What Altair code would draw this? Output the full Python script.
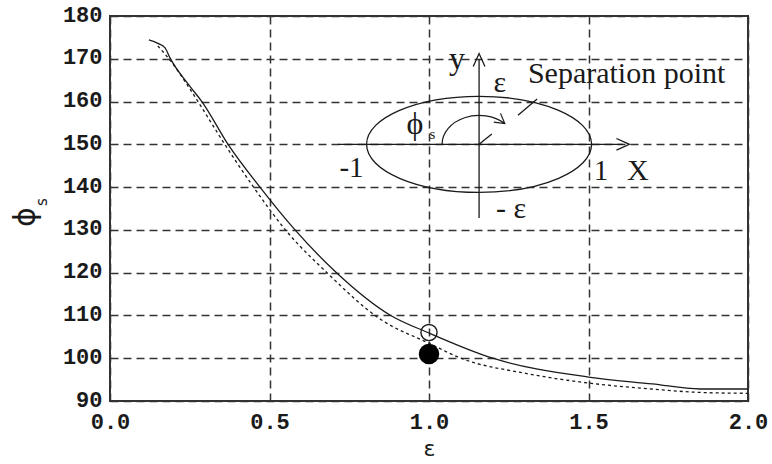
import altair as alt
import pandas as pd

# ---- data ----
eps_solid = [0.122, 0.15, 0.172, 0.188, 0.25, 0.288, 0.37, 0.47, 0.58, 0.71, 0.88, 1.0, 1.2, 1.5, 1.7, 1.85, 2.0]
phi_solid = [174.4, 173.6, 172.6, 170.2, 163.6, 160.0, 150.0, 140.0, 130.0, 120.0, 110.0, 105.9, 100.0, 95.6, 94.0, 92.8, 92.8]

eps_dot = [0.15, 0.19, 0.25, 0.28, 0.36, 0.45, 0.55, 0.68, 0.85, 1.0, 1.1, 1.3, 1.5, 1.7, 1.85, 2.0]
phi_dot = [173.0, 169.5, 163.0, 159.5, 150.0, 140.0, 130.0, 120.0, 109.0, 103.5, 100.0, 96.5, 94.2, 92.8, 92.0, 91.8]

open_pt = {"e": [1.0], "v": [106.0]}
filled_pt = {"e": [1.0], "v": [101.0]}

x_ticks = [0.0, 0.5, 1.0, 1.5, 2.0]
y_ticks = [90, 100, 110, 120, 130, 140, 150, 160, 170, 180]

# inset diagram (in data coordinates)
inset_center = {"e": [1.157], "v": [150.0]}
seg_e = [0.715, 1.157, 1.157, 1.279]
seg_v = [150.0, 132.8, 150.0, 156.8]
seg_e2 = [1.608, 1.157, 1.197, 1.339]
seg_v2 = [150.0, 169.7, 152.4, 160.6]

lab_text = ["y", "ε", "-1", "1", "X", "- ε", "ϕ", "s"]
lab_e = [1.088, 1.222, 0.757, 1.539, 1.655, 1.257, 0.956, 1.011]
lab_v = [169.9, 164.4, 144.5, 143.8, 143.8, 134.9, 154.7, 152.3]
lab_fs = [32, 30, 29, 29, 30, 30, 32, 15]

sep_text = ["Separation point"]
sep_e = [1.31]
sep_v = [166.4]

# ---- tables ----
solid = pd.DataFrame({"e": eps_solid, "v": phi_solid})
dotted = pd.DataFrame({"e": eps_dot, "v": phi_dot})
segs = pd.DataFrame({"e": seg_e, "v": seg_v, "e2": seg_e2, "v2": seg_v2})
labels = pd.DataFrame({"e": lab_e, "v": lab_v, "t": lab_text, "fs": lab_fs})
sep = pd.DataFrame({"e": sep_e, "v": sep_v, "t": sep_text})
center = pd.DataFrame(inset_center)
x_arrow = pd.DataFrame({"e": [seg_e2[0]], "v": [seg_v2[0]]})
y_arrow = pd.DataFrame({"e": [seg_e2[1]], "v": [seg_v2[1]]})

INK = "#1a1a1a"
GRID = "#333333"

xs = alt.Scale(domain=[0, 2], nice=False, zero=False)
ys = alt.Scale(domain=[90, 180], nice=False, zero=False)

x_axis = alt.Axis(values=x_ticks, format=".1f", title="ε", grid=True, gridDash=[8, 5],
                  gridColor=GRID, gridWidth=1.5, gridOpacity=1, ticks=False, domain=False,
                  labelFont="Liberation Mono", labelFontSize=22, labelFontWeight="bold",
                  labelColor="#1a1a1a", labelPadding=10, labelFlush=False, labelOverlap=False,
                  titleFont="DejaVu Sans", titleFontSize=22, titleFontWeight="normal",
                  titleColor="#1a1a1a", titlePadding=6)
y_axis = alt.Axis(values=y_ticks, format="d", title=None, grid=True, gridDash=[8, 5],
                  gridColor=GRID, gridWidth=1.5, gridOpacity=1, ticks=False, domain=False,
                  labelFont="Liberation Mono", labelFontSize=22, labelFontWeight="bold",
                  labelColor="#1a1a1a", labelPadding=8, labelFlush=False, labelOverlap=False,
                  labelOffset=-2)

X = alt.X("e:Q", scale=xs, axis=x_axis)
Y = alt.Y("v:Q", scale=ys, axis=y_axis)
Xn = alt.X("e:Q", scale=xs)
Yn = alt.Y("v:Q", scale=ys)

solid_line = alt.Chart(solid).mark_line(color=INK, strokeWidth=1.3, interpolate="monotone").encode(x=X, y=Y)
dot_line = alt.Chart(dotted).mark_line(color=INK, strokeWidth=1.3, strokeDash=[3, 3],
                                       interpolate="monotone").encode(x=Xn, y=Yn)

open_c = alt.Chart(pd.DataFrame(open_pt)).mark_point(
    shape="circle", filled=False, size=260, color=INK, strokeWidth=1.4, opacity=1).encode(x=Xn, y=Yn)
fill_c = alt.Chart(pd.DataFrame(filled_pt)).mark_point(
    shape="circle", filled=True, size=420, color="#000", opacity=1).encode(x=Xn, y=Yn)

# inset pieces
ellipse_path = "M -1 0 A 1 0.427 0 1 1 1 0 A 1 0.427 0 1 1 -1 0 Z"
arc_path = ("M -1 0 A 1 0.78 0 0 1 0.695 -0.561 "
            "M 0.578 -0.837 L 0.695 -0.561 L 0.397 -0.598")
ellipse = alt.Chart(center).mark_point(shape=ellipse_path, filled=False, size=50625,
                                       color=INK, strokeWidth=1.3, opacity=1).encode(x=Xn, y=Yn)
arc = alt.Chart(center).mark_point(shape=arc_path, filled=False, size=5476,
                                   color=INK, strokeWidth=1.2, opacity=1).encode(x=Xn, y=Yn)
rules = alt.Chart(segs).mark_rule(color=INK, strokeWidth=1.3).encode(
    x=Xn, y=Yn, x2="e2:Q", y2="v2:Q")
arrow_r = alt.Chart(x_arrow).mark_point(shape="M -1 -0.9 L 1 0 L -1 0.9", filled=False, size=169,
                                        color=INK, strokeWidth=1.3, opacity=1).encode(x=Xn, y=Yn)
arrow_u = alt.Chart(y_arrow).mark_point(shape="M -0.9 1 L 0 -1 L 0.9 1", filled=False, size=169,
                                        color=INK, strokeWidth=1.3, opacity=1).encode(x=Xn, y=Yn)

texts = alt.Chart(labels).mark_text(font="Liberation Serif, DejaVu Serif", color=INK,
                                    align="center", baseline="middle").encode(
    x=Xn, y=Yn, text="t:N", size=alt.Size("fs:Q", scale=None, legend=None))
sep_txt = alt.Chart(sep).mark_text(font="Liberation Serif", fontSize=30, color=INK,
                                   align="left", baseline="middle").encode(x=Xn, y=Yn, text="t:N")

# y axis title (rotated phi with subscript s)
ytitle = alt.Chart(pd.DataFrame({"t": ["ϕ"]})).mark_text(
    font="DejaVu Sans", fontSize=30, angle=270, color=INK, align="center", baseline="middle").encode(
    x=alt.value(-84), y=alt.value(201), text="t:N")
ysub = alt.Chart(pd.DataFrame({"t": ["s"]})).mark_text(
    font="DejaVu Sans", fontSize=15, angle=270, color=INK, align="center", baseline="middle").encode(
    x=alt.value(-68), y=alt.value(186), text="t:N")

chart = alt.layer(
    solid_line, dot_line, ellipse, arc, rules, arrow_r, arrow_u, texts, sep_txt,
    open_c, fill_c, ytitle, ysub
).properties(
    width=638, height=385,
    padding={"left": 110, "top": 16, "right": 24, "bottom": 63},
    autosize=alt.AutoSizeParams(type="none"),
    background="white",
).configure_view(stroke=GRID, strokeWidth=2)

chart.save("out.html", embed_options={"renderer": "svg", "actions": False})
